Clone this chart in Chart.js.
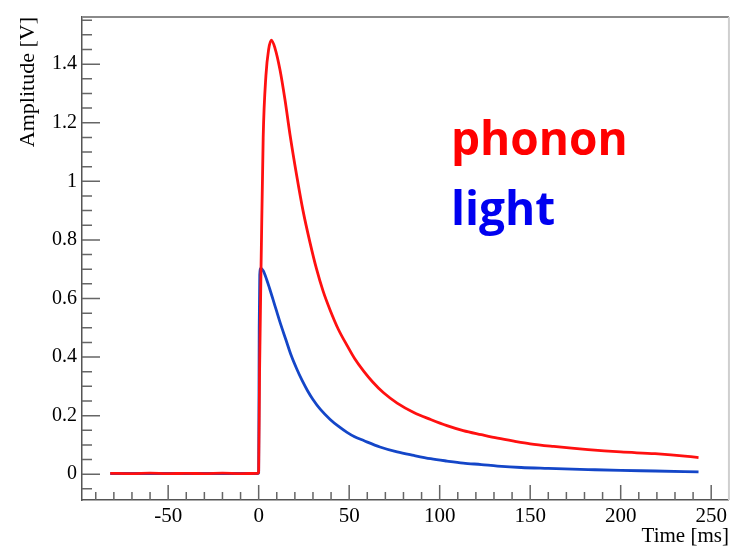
<!DOCTYPE html>
<html>
<head>
<meta charset="utf-8">
<script src="https://cdn.jsdelivr.net/npm/chart.js@4/dist/chart.umd.min.js"></script>
<style>
  html, body { margin: 0; padding: 0; background: #ffffff; }
  #wrap { position: relative; width: 731px; height: 546px; }
</style>
</head>
<body>
<div id="wrap"><canvas id="c" width="731" height="546"></canvas></div>
<script>
// ---- data ----
const phononTime = [-82, -70, -60, -50, -40, -30, -20, -10, -0.5, 0, 0.5, 1.5, 2.5, 4, 5.5, 7, 9, 11.8, 14.5, 17.3, 21, 24.5, 28.4, 32, 35.6, 39.5, 44, 48.8, 53, 58, 63, 69, 76.5, 85.7, 95, 104, 113, 123, 132, 141, 150, 163, 182, 200, 219, 237, 243];
const phononAmp  = [0.003, 0.002, 0.004, 0.002, 0.003, 0.002, 0.004, 0.002, 0.003, 0.01, 0.35, 0.78, 1.15, 1.36, 1.45, 1.482, 1.455, 1.38, 1.28, 1.16, 1.02, 0.9, 0.79, 0.70, 0.625, 0.56, 0.495, 0.44, 0.395, 0.352, 0.315, 0.278, 0.243, 0.211, 0.187, 0.166, 0.149, 0.135, 0.123, 0.113, 0.104, 0.095, 0.084, 0.076, 0.070, 0.061, 0.057];
const lightTime  = [-82, -70, -60, -50, -40, -30, -20, -10, -0.5, 0, 0.3, 0.6, 1.2, 2.5, 4.4, 6, 8, 10, 12, 15, 18, 21, 24, 27, 30, 34, 39.5, 44, 48.8, 53, 58, 67, 76.5, 85.7, 95, 104, 113, 123, 132, 145, 160, 182, 200, 219, 243];
const lightAmp   = [0.002, 0.003, 0.002, 0.003, 0.002, 0.003, 0.002, 0.003, 0.002, 0.005, 0.5, 0.68, 0.703, 0.695, 0.665, 0.635, 0.595, 0.555, 0.515, 0.46, 0.405, 0.36, 0.32, 0.285, 0.255, 0.222, 0.187, 0.164, 0.143, 0.128, 0.115, 0.093, 0.076, 0.064, 0.053, 0.045, 0.038, 0.033, 0.028, 0.023, 0.02, 0.016, 0.013, 0.011, 0.008];
const seriesNames = ['phonon', 'light'];
const xTitle = 'Time [ms]';
const yTitle = 'Amplitude [V]';

const toPts = (xs, ys) => xs.map((x, i) => ({ x: x, y: ys[i] }));
const serif = "'Liberation Serif', 'Times New Roman', serif";

// inner ROOT-style ticks and frame
const frameTicks = {
  id: 'frameTicks',
  afterDatasetsDraw(chart) {
    const { ctx, chartArea: a, scales: { x, y } } = chart;
    ctx.save();
    ctx.strokeStyle = '#666';
    ctx.lineWidth = 1.5;
    ctx.beginPath();
    for (let v = -90; v <= 260; v += 10) {
      const px = x.getPixelForValue(v);
      if (px < a.left + 1 || px > a.right - 1) continue;
      const len = (v % 50 === 0) ? 15 : 8;
      ctx.moveTo(px, a.bottom);
      ctx.lineTo(px, a.bottom - len);
    }
    for (let k = -1; k <= 31; k++) {
      const v = k * 0.05;
      const py = y.getPixelForValue(v);
      if (py < a.top + 1 || py > a.bottom - 1) continue;
      const len = (k % 4 === 0) ? 18 : 10;
      ctx.moveTo(a.left, py);
      ctx.lineTo(a.left + len, py);
    }
    ctx.stroke();
    // top and right frame lines
    ctx.strokeStyle = '#8a8a8a';
    ctx.lineWidth = 2;
    ctx.beginPath();
    ctx.moveTo(a.left, a.top);
    ctx.lineTo(a.right, a.top);
    ctx.stroke();
    ctx.strokeStyle = '#cfcfcf';
    ctx.beginPath();
    ctx.moveTo(a.right, a.top);
    ctx.lineTo(a.right, a.bottom);
    ctx.stroke();
    // series labels
    ctx.font = 'bold 46px "Open Sans"';
    ctx.textAlign = 'left';
    ctx.textBaseline = 'alphabetic';
    ctx.fillStyle = '#ff0000';
    ctx.fillText(seriesNames[0], 451, 155);
    ctx.fillStyle = '#0000f0';
    ctx.fillText(seriesNames[1], 451, 225);
    ctx.restore();
  }
};

new Chart(document.getElementById('c'), {
  type: 'line',
  data: {
    datasets: [
      { label: seriesNames[0], data: toPts(phononTime, phononAmp), borderColor: '#ff1010', borderWidth: 2.8, pointRadius: 0, cubicInterpolationMode: 'monotone', fill: false },
      { label: seriesNames[1], data: toPts(lightTime, lightAmp), borderColor: '#1446c8', borderWidth: 2.8, pointRadius: 0, cubicInterpolationMode: 'monotone', fill: false }
    ]
  },
  options: {
    responsive: false,
    animation: false,
    layout: { padding: { top: 15, right: 2, left: 0, bottom: 0 } },
    plugins: { legend: { display: false }, tooltip: { enabled: false } },
    scales: {
      x: {
        type: 'linear',
        min: -97.6, max: 259.8,
        afterFit(s) { s.height = 46; },
        ticks: { stepSize: 50, includeBounds: false, padding: 4, color: '#000', font: { family: serif, size: 21 }, maxRotation: 0,
                 callback: v => (v % 50 === 0 ? String(v) : '') },
        grid: { display: true, drawOnChartArea: false, drawTicks: false },
        border: { display: true, color: '#555', width: 1.5 },
        title: { display: true, text: xTitle, align: 'end', color: '#000', padding: 0, font: { family: serif, size: 21, lineHeight: 0.9 } }
      },
      y: {
        type: 'linear',
        min: -0.088, max: 1.561,
        afterFit(s) { s.width = 82; },
        ticks: { stepSize: 0.2, includeBounds: false, padding: 5, color: '#000', font: { family: serif, size: 20 },
                 callback: v => String(Number(v.toFixed(1))) },
        grid: { display: true, drawOnChartArea: false, drawTicks: false },
        border: { display: true, color: '#555', width: 1.5 },
        title: { display: true, text: yTitle, align: 'end', color: '#000', padding: { top: 15, bottom: 0 }, font: { family: serif, size: 22, lineHeight: 1.2 } }
      }
    }
  },
  plugins: [frameTicks]
});
</script>
</body>
</html>
